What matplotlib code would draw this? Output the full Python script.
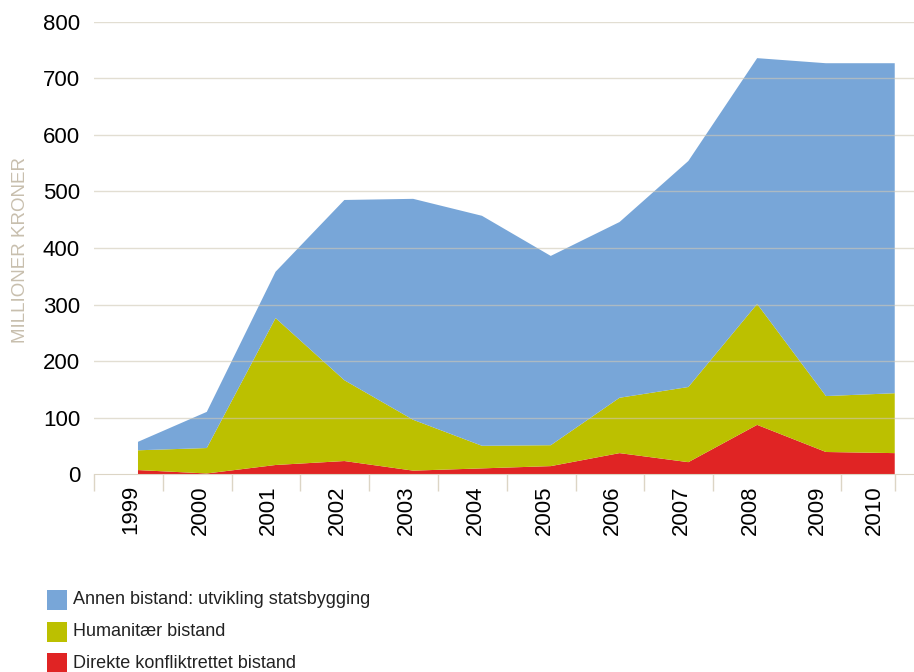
import matplotlib
matplotlib.use("Agg")
import matplotlib.pyplot as plt
from matplotlib.patches import Rectangle
import numpy as np

# Verdier lest av figuren (millioner kroner)
years = ["1999", "2000", "2001", "2002", "2003", "2004",
         "2005", "2006", "2007", "2008", "2009", "2010"]
direkte = [7, 1, 16, 23, 6, 10, 14, 37, 21, 87, 39, 37]
humanitaer = [35, 45, 260, 143, 90, 40, 37, 98, 133, 214, 99, 106]
annen = [15, 64, 82, 319, 391, 407, 335, 311, 400, 435, 589, 584]
labels = ["Annen bistand: utvikling statsbygging",
          "Humanitær bistand",
          "Direkte konfliktrettet bistand"]
colors = ["#78a6d8", "#bcc000", "#e02424"]

plt.rcParams['font.family'] = ['Liberation Sans', 'DejaVu Sans']
beige = "#dcd5c5"

fig = plt.figure(figsize=(9.14, 6.72), dpi=100)
ax = fig.add_axes([0.1028, 0.2946, 0.8972, 0.6727])

x = np.arange(len(years))
ax.stackplot(x, direkte, humanitaer, annen,
             colors=[colors[2], colors[1], colors[0]], linewidth=0)

ax.set_ylim(0, 800)
ax.set_xlim(-0.64, 11.28)
ax.set_yticks(range(0, 801, 100))
ax.tick_params(axis='y', length=0, labelsize=16, pad=10)
for y in range(100, 801, 100):
    ax.axhline(y, color="#cfc8b5", lw=1, alpha=0.6, zorder=3)

# Kategori-skiller og årstall (uregelmessig som i originalen)
sep = [-0.64 + i for i in range(10)] + [10.22, 11.0]
ax.set_xticks(sep, minor=True)
ax.tick_params(axis='x', which='minor', length=12, color=beige, width=1)
ticks = [i - 0.1 for i in range(10)] + [9.88, 10.71]
ax.set_xticks(ticks)
ax.set_xticklabels(years, rotation=90, fontsize=16)
ax.tick_params(axis='x', which='major', length=0, pad=8)

for s in ["left", "right", "top"]:
    ax.spines[s].set_visible(False)
ax.spines["bottom"].set_color(beige)

fig.text(0.022, 0.628, "MILLIONER KRONER", rotation=90, color="#c8bfae",
         fontsize=13.5, ha="center", va="center")

# Tegnforklaring
for i, (lab, col) in enumerate(zip(labels, colors)):
    yc = 600 + i * 31.5
    fig.add_artist(Rectangle((47 / 914, 1 - (yc + 10) / 672), 20 / 914, 20 / 672,
                             transform=fig.transFigure, facecolor=col, lw=0))
    fig.text(73 / 914, 1 - yc / 672, lab, fontsize=13, va="center",
             color="#222222")

fig.savefig("out.png", dpi=100)
